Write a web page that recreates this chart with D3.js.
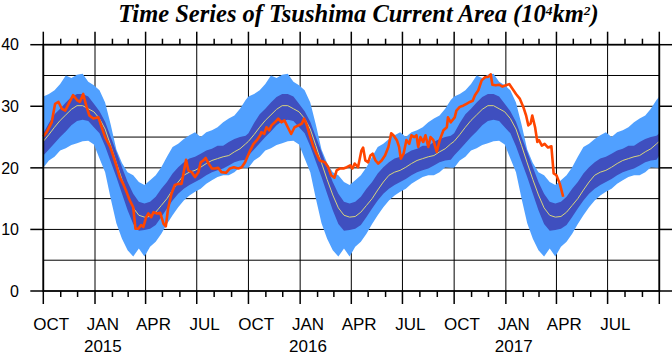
<!DOCTYPE html>
<html>
<head>
<meta charset="utf-8">
<script src="https://cdn.jsdelivr.net/npm/d3@7/dist/d3.min.js"></script>
<style>
  html, body { margin: 0; padding: 0; background: #fff; }
  svg { display: block; }
</style>
</head>
<body>
<div id="chart"></div>
<script>
// climatology, one year starting 1 Oct (days since 1 Oct)
const climDay   = [0,10,20,30,40,50,60,70,80,90,100,110,120,130,140,150,160,170,180,190,200,210,220,230,240,250,260,270,280,290,300,310,320,330,340,350,360];
const climMean  = [24.3,25.4,26.6,27.7,28.6,29.5,30.1,30.1,29.6,29.1,28.0,26.3,23.6,20.8,18.1,15.6,13.5,12.3,12.0,12.1,12.8,13.9,15.0,16.4,17.7,18.8,19.3,19.6,20.1,20.7,21.2,21.5,21.8,22.0,22.6,23.1,23.9];
const innerHi   = [25.6,27.3,28.7,29.6,30.6,31.5,32.0,32.0,31.6,30.4,29.2,27.5,25.0,22.6,20.1,17.7,15.8,14.5,14.2,14.5,15.3,16.6,17.7,19.1,20.1,20.9,21.5,21.8,22.3,22.8,23.1,23.6,23.6,24.2,24.7,25.0,25.2];
const innerLo   = [22.0,23.0,24.0,25.0,25.9,26.9,27.6,27.8,27.6,26.6,25.6,23.5,21.0,18.5,15.8,13.1,10.9,9.8,9.9,10.1,10.7,12.0,13.4,14.7,15.8,16.6,17.2,17.7,18.2,18.8,19.3,19.6,19.9,20.4,20.9,21.2,21.3];
const outerHi   = [31.6,32.0,32.6,33.6,35.0,34.6,35.1,35.3,34.0,33.4,32.6,30.6,27.0,23.0,20.8,19.3,18.8,17.7,17.2,18.0,18.8,20.1,21.8,23.4,23.9,24.7,25.3,25.8,25.0,25.8,26.1,26.6,27.4,28.0,28.5,29.6,31.0];
const outerLo   = [20.0,21.2,21.8,22.8,23.2,23.7,24.0,24.3,24.4,23.8,21.5,19.3,15.0,11.0,8.5,6.6,5.6,6.9,5.6,7.2,8.0,9.3,10.9,12.3,13.6,14.7,15.5,16.1,16.6,17.4,18.0,18.5,18.8,18.8,19.3,20.1,20.0];
const cycleStart = ["2014-10-01","2015-10-01","2016-10-01"];

// observed area, days since 1 Oct 2014
const obsDay = [0,6,15,21,27,33,39,45,53,61,65,71,77,82,89,98,104,110,119,125,131,136,142,148,154,160,164,169,174,178,183,187,192,196,202,208,214,218,222,228,234,240,246,254,258,264,270,276,280,285,289,294,300,305,311,317,325,332,339,347,353,359,368,
  374,380,386,388,393,397,402,406,412,418,424,429,435,441,447,454,460,464,469,474,480,486,492,501,507,512,518,522,528,534,540,546,550,554,560,566,569,573,578,582,586,591,596,602,608,614,619,623,629,633,636,641,646,651,655,660,664,667,671,676,680,685,689,694,700,706,712,718,720,725,732,
  735,741,747,753,759,764,768,774,780,786,792,796,799,805,811,817,823,829,835,841,848,854,859,863,867,870,875,879,882,887,892,898,904,908,913,919,925];
const obsVal = [25.1,25.8,27.4,30.4,30.7,29.6,29.3,30.4,31.8,30.9,30.7,32.0,29.9,28.5,28.0,28.2,26.6,25.0,23.4,21.8,20.1,18.5,17.4,16.1,14.7,13.6,10.1,10.1,10.7,10.4,12.0,12.6,12.0,12.8,12.6,12.7,10.9,10.5,13.4,15.8,17.2,17.4,17.4,21.3,19.6,19.3,18.5,19.3,20.9,21.2,21.6,20.7,19.9,19.9,20.0,19.3,19.2,19.9,20.1,19.9,20.1,20.9,22.8,
  23.9,24.5,25.3,25.8,25.5,26.6,26.1,26.9,27.4,28.0,27.4,27.7,26.6,25.5,26.6,26.9,27.2,28.0,26.9,25.3,23.6,22.3,21.2,20.9,20.1,18.8,18.4,19.6,19.9,19.9,20.1,20.4,19.9,20.7,20.1,22.8,23.3,21.2,20.9,22.0,22.3,21.2,20.7,21.2,22.0,23.4,25.6,25.3,24.5,23.4,21.5,22.3,24.5,23.9,25.3,25.0,25.3,23.4,25.0,24.2,25.3,23.4,25.0,24.5,22.6,24.7,26.1,26.6,28.2,27.4,28.2,
  29.3,29.9,30.1,30.4,30.7,30.9,31.8,32.6,34.2,34.7,34.8,35.2,33.5,33.4,33.5,33.2,33.4,33.6,32.8,32.0,31.2,29.9,28.5,26.9,27.2,28.5,26.6,24.2,24.5,23.6,23.9,23.3,23.5,19.1,18.8,17.4,15.3];

const yTicks = [0,10,20,30,40];
const yGrid = [5,10,15,20,25,30,35];
const monthNames = ["JAN","FEB","MAR","APR","MAY","JUN","JUL","AUG","SEP","OCT","NOV","DEC"];

const W = 672, H = 354;
const margin = { top: 44.7, right: 12.7, bottom: 63, left: 43.3 };

const svg = d3.select("#chart").append("svg")
  .attr("width", W).attr("height", H);

const t0 = new Date(Date.UTC(2014, 9, 1));
const t1 = new Date(Date.UTC(2017, 9, 1));
const x = d3.scaleUtc().domain([t0, t1]).range([margin.left, W - margin.right]);
const y = d3.scaleLinear().domain([0, 40]).range([H - margin.bottom, margin.top]);

// repeat the climatology for each year shown
const clim = [];
cycleStart.forEach(s => {
  const base = new Date(s + "T00:00:00Z");
  climDay.forEach((d, i) => {
    clim.push({ t: d3.utcDay.offset(base, d), m: climMean[i], il: innerLo[i], ih: innerHi[i], ol: outerLo[i], oh: outerHi[i] });
  });
});
clim.push({ t: t1, m: climMean[0], il: innerLo[0], ih: innerHi[0], ol: outerLo[0], oh: outerHi[0] });

const obs = obsDay.map((d, i) => ({ t: d3.utcDay.offset(t0, d), v: obsVal[i] }));

const x0 = margin.left, x1 = W - margin.right, y0 = H - margin.bottom, y1 = margin.top;

// grid
const grid = svg.append("g").attr("stroke", "#000").attr("stroke-width", 1);
yGrid.forEach(v => {
  grid.append("line").attr("x1", x0).attr("x2", x1).attr("y1", y(v)).attr("y2", y(v));
});
const months = d3.utcMonth.range(t0, d3.utcDay.offset(t1, 1));
const quarters = months.filter(m => m.getUTCMonth() % 3 === 0);
quarters.forEach(m => {
  grid.append("line").attr("x1", x(m)).attr("x2", x(m)).attr("y1", y1).attr("y2", y0);
});

// bands
const area = (lo, hi) => d3.area().x(d => x(d.t)).y0(d => y(d[lo])).y1(d => y(d[hi]));
svg.append("path").datum(clim).attr("fill", "#50a0ff").attr("d", area("ol", "oh"));
svg.append("path").datum(clim).attr("fill", "#3f4fbf").attr("d", area("il", "ih"));
svg.append("path").datum(clim).attr("fill", "none").attr("stroke", "#d8d47c").attr("stroke-width", 1)
  .attr("d", d3.line().x(d => x(d.t)).y(d => y(d.m)));

// observed
svg.append("path").datum(obs).attr("fill", "none").attr("stroke", "#ff4500").attr("stroke-width", 2.6)
  .attr("stroke-linejoin", "round")
  .attr("d", d3.line().x(d => x(d.t)).y(d => y(d.v)));

// frame + ticks
const ax = svg.append("g").attr("stroke", "#000").attr("fill", "none");
ax.append("rect").attr("x", x0).attr("y", y1).attr("width", x1 - x0).attr("height", y0 - y1).attr("stroke-width", 1.8);
months.forEach(m => {
  const major = m.getUTCMonth() % 3 === 0;
  const len = major ? 13 : 6;
  ax.append("line").attr("x1", x(m)).attr("x2", x(m)).attr("y1", y0).attr("y2", y0 + len).attr("stroke-width", 1.5);
  ax.append("line").attr("x1", x(m)).attr("x2", x(m)).attr("y1", y1).attr("y2", y1 - len).attr("stroke-width", 1.5);
});
yTicks.forEach(v => {
  ax.append("line").attr("x1", x0 - 13).attr("x2", x0).attr("y1", y(v)).attr("y2", y(v)).attr("stroke-width", 1.5);
  ax.append("line").attr("x1", x1).attr("x2", x1 + 13).attr("y1", y(v)).attr("y2", y(v)).attr("stroke-width", 1.5);
});

// labels
const lab = svg.append("g").attr("font-family", "'Liberation Sans', Arial, sans-serif").attr("fill", "#000");
yTicks.forEach(v => {
  lab.append("text").attr("x", 19).attr("y", y(v)).attr("dy", "0.36em")
    .attr("text-anchor", "end").attr("font-size", 16).text(v);
});
quarters.filter(m => m < t1).forEach(m => {
  const mid = d3.utcDay.offset(m, 14);
  lab.append("text").attr("x", x(mid)).attr("y", 329.5).attr("text-anchor", "middle")
    .attr("font-size", 17).text(monthNames[m.getUTCMonth()]);
  if (m.getUTCMonth() === 0) {
    lab.append("text").attr("x", x(mid)).attr("y", 351.5).attr("text-anchor", "middle")
      .attr("font-size", 17).text(m.getUTCFullYear());
  }
});

// title
const title = svg.append("text").attr("x", 358.5).attr("y", 22).attr("text-anchor", "middle")
  .attr("font-family", "'Liberation Serif', 'Times New Roman', serif")
  .attr("font-style", "italic").attr("font-weight", "bold").attr("font-size", 24.5);
title.append("tspan").text("Time Series of Tsushima Current Area (10");
title.append("tspan").attr("dy", -7.5).attr("font-size", 13.5).text("4");
title.append("tspan").attr("dy", 7.5).text("km");
title.append("tspan").attr("dy", -7.5).attr("font-size", 13.5).text("2");
title.append("tspan").attr("dy", 7.5).text(")");
</script>
</body>
</html>
